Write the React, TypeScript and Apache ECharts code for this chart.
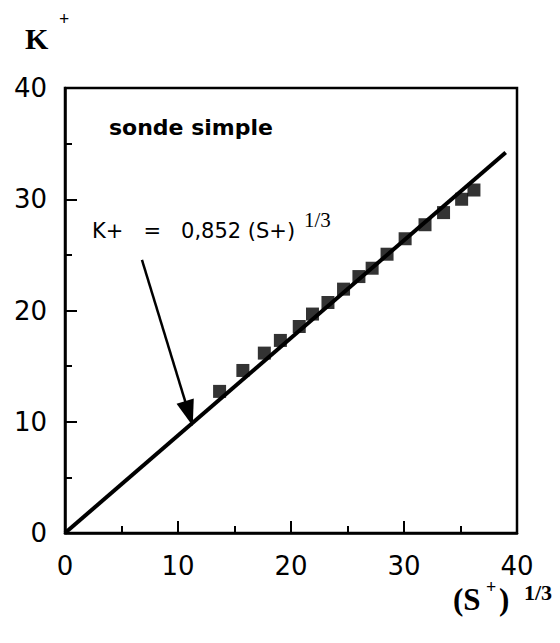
import React, { useEffect, useRef } from "react";
import * as echarts from "echarts";

// (S+)^(1/3) values of the measured points
const sPlus = [13.68, 15.74, 17.64, 19.06, 20.73, 21.9, 23.27, 24.65, 26.01, 27.18, 28.5, 30.1, 31.86, 33.5, 35.1, 36.19];
// K+ values of the measured points
const kPlus = [12.73, 14.61, 16.17, 17.31, 18.56, 19.68, 20.72, 21.92, 23.05, 23.8, 25.06, 26.45, 27.71, 28.8, 30.0, 30.83];
// fitted line end points
const fitX = [0, 39];
const fitY = [0, 34.2];
// annotation arrow (data coordinates)
const arrowFrom = [6.81, 24.55];
const arrowTo = [10.97, 10.73];

const axisMin = 0;
const axisMax = 40;
const axisStep = 10;

const SANS = "'DejaVu Sans', Verdana, sans-serif";
const SERIF = "'Liberation Serif', 'Times New Roman', serif";

export default function App() {
  const ref = useRef<HTMLDivElement>(null);
  useEffect(() => {
    if (!ref.current) return;
    const chart = echarts.init(ref.current, undefined, { renderer: "svg" });
    const axisCommon = (margin: number) => ({
      type: "value" as const,
      min: axisMin,
      max: axisMax,
      interval: axisStep,
      axisLine: { show: true, onZero: false, lineStyle: { color: "#000", width: 2.5 } },
      axisTick: { show: true, inside: true, length: 12, lineStyle: { color: "#000", width: 2 } },
      minorTick: { show: true, splitNumber: 2, length: 7, lineStyle: { color: "#000", width: 2 } },
      splitLine: { show: false },
      minorSplitLine: { show: false },
      axisLabel: { color: "#000", fontSize: 26, fontFamily: SANS, margin },
    });
    chart.setOption({
      animation: false,
      backgroundColor: "#fff",
      grid: {
        left: 65,
        right: 43,
        top: 88,
        bottom: 110,
        show: true,
        borderColor: "#000",
        borderWidth: 2.5,
        backgroundColor: "transparent",
      },
      xAxis: axisCommon(20),
      yAxis: axisCommon(18),
      series: [
        {
          type: "line",
          data: fitX.map((x, i) => [x, fitY[i]]),
          symbol: "none",
          lineStyle: { color: "#000", width: 4 },
          z: 2,
          markLine: {
            silent: true,
            symbol: ["none", "triangle"],
            symbolSize: [18, 26],
            lineStyle: { color: "#000", width: 2.5, type: "solid" },
            label: { show: false },
            data: [[{ coord: arrowFrom }, { coord: arrowTo }]],
          },
        },
        {
          type: "scatter",
          data: sPlus.map((x, i) => [x, kPlus[i]]),
          symbol: "rect",
          symbolSize: 13,
          itemStyle: { color: "#000" },
          z: 3,
        },
      ],
      graphic: [
        {
          type: "text",
          x: 109,
          y: 127.4,
          style: { text: "sonde simple", font: `bold 22px ${SANS}`, fill: "#000", textVerticalAlign: "middle" },
        },
        {
          type: "text",
          x: 92,
          y: 231,
          style: { text: "K+   =   0,852 (S+)", font: `21px ${SANS}`, fill: "#000", textVerticalAlign: "middle" },
        },
        {
          type: "text",
          x: 304,
          y: 220,
          style: { text: "1/3", font: `21px ${SERIF}`, fill: "#000", textVerticalAlign: "middle" },
        },
        {
          type: "text",
          x: 25,
          y: 38,
          style: { text: "K", font: `bold 30px ${SERIF}`, fill: "#000", textVerticalAlign: "middle" },
        },
        {
          type: "text",
          x: 64,
          y: 18.6,
          style: { text: "+", font: `bold 18px ${SERIF}`, fill: "#000", textAlign: "center", textVerticalAlign: "middle" },
        },
        {
          type: "text",
          x: 453,
          y: 599.5,
          style: { text: "(S", font: `bold 31px ${SERIF}`, fill: "#000", textVerticalAlign: "middle" },
        },
        {
          type: "text",
          x: 491,
          y: 587,
          style: { text: "+", font: `bold 18px ${SERIF}`, fill: "#000", textAlign: "center", textVerticalAlign: "middle" },
        },
        {
          type: "text",
          x: 499,
          y: 599.5,
          style: { text: ")", font: `bold 31px ${SERIF}`, fill: "#000", textVerticalAlign: "middle" },
        },
        {
          type: "text",
          x: 524,
          y: 592.6,
          style: { text: "1/3", font: `bold 22px ${SERIF}`, fill: "#000", textVerticalAlign: "middle" },
        },
      ],
    });
    return () => chart.dispose();
  }, []);
  return (
    <div
      ref={ref}
      style={{ position: "absolute", left: 0, top: 0, width: 560, height: 643, background: "#fff" }}
    />
  );
}
